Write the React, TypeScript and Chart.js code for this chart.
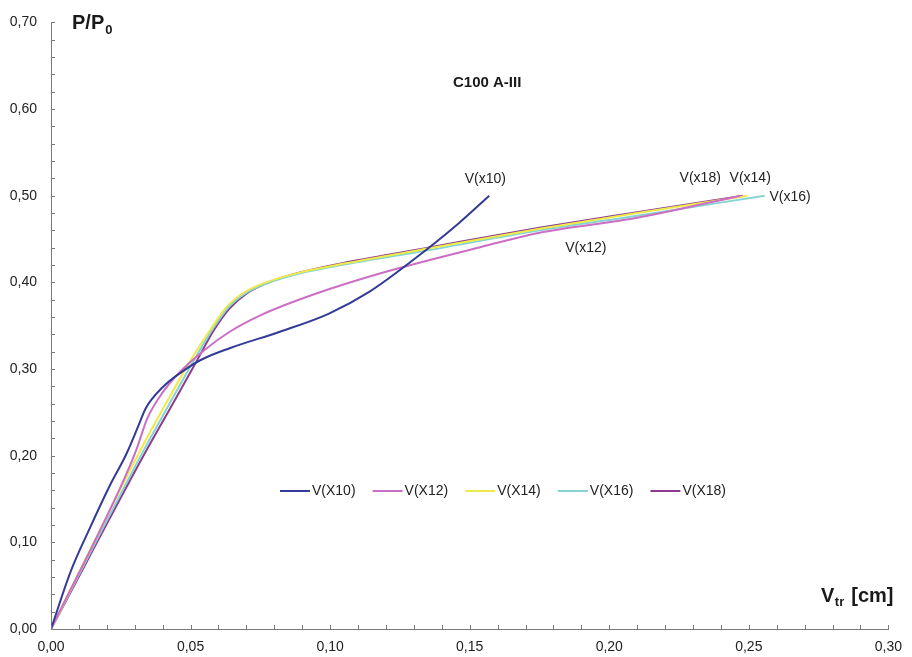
import React, { useEffect, useRef } from "react";
import { Chart, registerables } from "chart.js";

Chart.register(...registerables);

// ---- data ----
const seriesNames = ["V(X10)", "V(X12)", "V(X14)", "V(X16)", "V(X18)"];
const seriesColors = ["#343a97", "#cc6ec4", "#eeea4a", "#86d3d3", "#8d3b90"];

const x10X = [0, 0.007, 0.014, 0.021, 0.027, 0.031, 0.034, 0.04, 0.047, 0.054, 0.064, 0.082, 0.0996, 0.114, 0.129, 0.146, 0.157];
const x10Y = [0, 0.066, 0.117, 0.165, 0.202, 0.232, 0.255, 0.279, 0.297, 0.311, 0.324, 0.343, 0.364, 0.389, 0.424, 0.468, 0.5];

const x12X = [0, 0.0258, 0.0306, 0.0345, 0.04, 0.046, 0.055, 0.064, 0.075, 0.094, 0.1175, 0.153, 0.1746, 0.21, 0.247];
const x12Y = [0, 0.17, 0.207, 0.243, 0.273, 0.296, 0.322, 0.343, 0.362, 0.386, 0.41, 0.44, 0.457, 0.4745, 0.5];

const x14X = [0, 0.0318, 0.042, 0.05, 0.057, 0.063, 0.069, 0.077, 0.09, 0.1056, 0.135, 0.175, 0.21, 0.2495];
const x14Y = [0, 0.205, 0.265, 0.31, 0.345, 0.372, 0.388, 0.4, 0.412, 0.422, 0.439, 0.462, 0.48, 0.5];

const x16X = [0, 0.033, 0.043, 0.051, 0.0575, 0.0635, 0.0695, 0.0775, 0.09, 0.1056, 0.135, 0.175, 0.21, 0.2557];
const x16Y = [0, 0.205, 0.263, 0.309, 0.344, 0.371, 0.387, 0.399, 0.411, 0.421, 0.437, 0.46, 0.477, 0.5];

const x18X = [0, 0.034, 0.044, 0.052, 0.058, 0.064, 0.07, 0.078, 0.09, 0.1056, 0.135, 0.175, 0.21, 0.248];
const x18Y = [0, 0.205, 0.262, 0.308, 0.343, 0.37, 0.387, 0.4, 0.412, 0.423, 0.44, 0.463, 0.481, 0.5];

const seriesX = [x10X, x12X, x14X, x16X, x18X];
const seriesY = [x10Y, x12Y, x14Y, x16Y, x18Y];

// end-of-curve labels (text, anchor in data units)
const endLabelTexts = ["V(x10)", "V(x12)", "V(x14)", "V(x16)", "V(x18)"];
const endLabelX = [0.1482, 0.1842, 0.2431, 0.2574, 0.2252];
const endLabelY = [0.5149, 0.4356, 0.5157, 0.4935, 0.5157];

const chartTitle = "C100 A-III";

const FONT = '"Liberation Sans", Arial, sans-serif';

const fmt = (v: number) => v.toFixed(2).replace(".", ",");

const decorPlugin = {
  id: "decor",
  afterDraw(chart: any) {
    const ctx = chart.ctx as CanvasRenderingContext2D;
    const xs = chart.scales.x;
    const ys = chart.scales.y;
    const area = chart.chartArea;
    ctx.save();
    // inward tick marks
    ctx.strokeStyle = "#7a7a7a";
    ctx.lineWidth = 1;
    ctx.beginPath();
    xs.ticks.forEach((t: any) => {
      const px = Math.round(xs.getPixelForValue(t.value)) + 0.5;
      ctx.moveTo(px, area.bottom);
      ctx.lineTo(px, area.bottom - 4);
    });
    ys.ticks.forEach((t: any) => {
      const py = Math.round(ys.getPixelForValue(t.value)) + 0.5;
      ctx.moveTo(area.left, py);
      ctx.lineTo(area.left + 4, py);
    });
    ctx.stroke();

    // axis titles
    ctx.fillStyle = "#1a1a1a";
    ctx.textBaseline = "alphabetic";
    ctx.textAlign = "left";
    ctx.font = `bold 20px ${FONT}`;
    ctx.fillText("P/P", 72, 29);
    let w = ctx.measureText("P/P").width;
    ctx.font = `bold 13px ${FONT}`;
    ctx.fillText("0", 72 + w + 1, 34);

    ctx.font = `bold 20px ${FONT}`;
    ctx.fillText("V", 821, 602);
    w = ctx.measureText("V").width;
    ctx.font = `bold 13px ${FONT}`;
    ctx.fillText("tr", 821 + w + 0.5, 606);
    const w2 = ctx.measureText("tr").width;
    ctx.font = `bold 20px ${FONT}`;
    ctx.fillText(" [cm]", 821 + w + w2 + 2, 602);

    // chart title
    ctx.font = `bold 15px ${FONT}`;
    ctx.fillText(chartTitle, 453, 87);

    // end labels
    ctx.font = `14px ${FONT}`;
    ctx.fillStyle = "#222";
    endLabelTexts.forEach((t, i) => {
      ctx.fillText(t, xs.getPixelForValue(endLabelX[i]), ys.getPixelForValue(endLabelY[i]));
    });

    // legend
    ctx.textBaseline = "middle";
    ctx.font = `14px ${FONT}`;
    seriesNames.forEach((name, i) => {
      const lx = 280 + i * 92.6;
      const ly = 491;
      ctx.strokeStyle = seriesColors[i];
      ctx.lineWidth = 2;
      ctx.beginPath();
      ctx.moveTo(lx, ly);
      ctx.lineTo(lx + 30, ly);
      ctx.stroke();
      ctx.fillStyle = "#222";
      ctx.fillText(name, lx + 32, ly);
    });
    ctx.restore();
  },
};

export default function App() {
  const ref = useRef<HTMLCanvasElement | null>(null);
  useEffect(() => {
    document.body.style.margin = "0";
    const canvas = ref.current;
    if (!canvas) return;
    const datasets = seriesNames.map((name, i) => ({
      label: name,
      data: seriesX[i].map((x, j) => ({ x, y: seriesY[i][j] })),
      borderColor: seriesColors[i],
      backgroundColor: seriesColors[i],
      borderWidth: 2,
      pointRadius: 0,
      showLine: true,
      fill: false,
      cubicInterpolationMode: "monotone" as const,
    }));
    const chart = new Chart(canvas, {
      type: "line",
      data: { datasets },
      options: {
        animation: false,
        responsive: false,
        devicePixelRatio: 1,
        layout: { padding: { left: 0, top: 15, right: 20, bottom: 0 } },
        plugins: { legend: { display: false }, tooltip: { enabled: false } },
        scales: {
          x: {
            type: "linear",
            min: 0,
            max: 0.3,
            afterFit: (s: any) => {
              s.height = 28;
            },
            border: { display: true, color: "#7a7a7a", width: 1 },
            grid: { display: true, drawOnChartArea: false, drawTicks: false, color: "transparent" },
            ticks: {
              stepSize: 0.01,
              autoSkip: false,
              maxRotation: 0,
              padding: 10,
              color: "#222",
              font: { family: FONT, size: 14 },
              callback: (v: any) => {
                const n = Number(v);
                return Math.abs(n * 20 - Math.round(n * 20)) < 1e-6 ? fmt(n) : "";
              },
            },
          },
          y: {
            type: "linear",
            min: 0,
            max: 0.7,
            afterFit: (s: any) => {
              s.width = 51;
            },
            border: { display: true, color: "#7a7a7a", width: 1 },
            grid: { display: true, drawOnChartArea: false, drawTicks: false, color: "transparent" },
            ticks: {
              stepSize: 0.02,
              autoSkip: false,
              padding: 14,
              color: "#222",
              font: { family: FONT, size: 14 },
              callback: (v: any) => {
                const n = Number(v);
                return Math.abs(n * 10 - Math.round(n * 10)) < 1e-6 ? fmt(n) : "";
              },
            },
          },
        },
      },
      plugins: [decorPlugin],
    });
    return () => chart.destroy();
  }, []);
  return (
    <div style={{ position: "fixed", left: 0, top: 0, width: 912, height: 657, background: "#fff" }}>
      <canvas ref={ref} width={912} height={657} />
    </div>
  );
}
